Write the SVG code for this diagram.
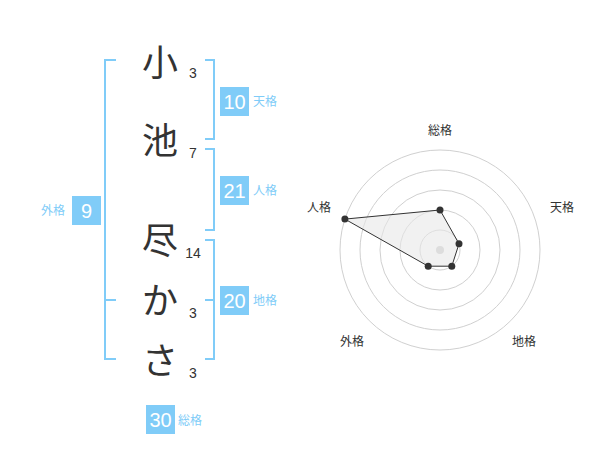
<svg xmlns="http://www.w3.org/2000/svg" width="600" height="470" viewBox="0 0 600 470">
<style>
.ch{font-family:"Noto Sans CJK JP","Noto Sans CJK SC",sans-serif;font-size:36px;fill:#333;text-anchor:middle}
.st{font-family:"Liberation Sans",Arial,sans-serif;font-size:14px;fill:#333;text-anchor:middle}
.br{fill:none;stroke:#80ccf8;stroke-width:2}
.bx{fill:#80ccf8}
.bn{font-family:"Liberation Sans",Arial,sans-serif;font-size:20px;fill:#fff;text-anchor:middle}
.lb{font-family:"Noto Sans CJK JP","Noto Sans CJK SC",sans-serif;font-size:12px;fill:#80ccf8}
.ring{fill:none;stroke:#d0d0d0;stroke-width:1}
.rl{font-family:"Noto Sans CJK JP","Noto Sans CJK SC",sans-serif;font-size:12px;fill:#333;text-anchor:middle}
.dot{fill:#333}
</style>
<g id="chars">
<text class="ch" x="160" y="76">小</text>
<text class="ch" x="160" y="154">池</text>
<text class="ch" x="160" y="254">尽</text>
<text class="ch" x="160" y="314">か</text>
<text class="ch" x="160" y="374">さ</text>
<text class="st" x="193" y="78">3</text>
<text class="st" x="193" y="158">7</text>
<text class="st" x="193" y="258">14</text>
<text class="st" x="193" y="318">3</text>
<text class="st" x="193" y="378">3</text>
</g>
<g id="connectors">
<path class="br" d="M116,60 H105 V359 H116 M105,300 H116"/>
<path class="br" d="M205,60 H214 V139 H205"/>
<path class="br" d="M205,149 H214 V230 H205"/>
<path class="br" d="M205,240 H214 V359 H205 M214,300 H205"/>
</g>
<g id="gaikaku">
<rect class="bx" x="72" y="196" width="29" height="29"/>
<text class="bn" x="86.5" y="218">9</text>
<text class="lb" x="65" y="215" text-anchor="end">外格</text>
</g>
<g id="tenkaku">
<rect class="bx" x="220" y="87" width="29" height="29"/>
<text class="bn" x="234.5" y="109">10</text>
<text class="lb" x="253" y="106">天格</text>
</g>
<g id="jinkaku">
<rect class="bx" x="220" y="176" width="29" height="29"/>
<text class="bn" x="234.5" y="198">21</text>
<text class="lb" x="253" y="195">人格</text>
</g>
<g id="chikaku">
<rect class="bx" x="220" y="286" width="29" height="29"/>
<text class="bn" x="234.5" y="308">20</text>
<text class="lb" x="253" y="305">地格</text>
</g>
<g id="soukaku">
<rect class="bx" x="146" y="405" width="29" height="29"/>
<text class="bn" x="160.5" y="427">30</text>
<text class="lb" x="178" y="425">総格</text>
</g>
<g id="radar">
<circle class="ring" cx="440" cy="250" r="20"/>
<circle class="ring" cx="440" cy="250" r="40"/>
<circle class="ring" cx="440" cy="250" r="60"/>
<circle class="ring" cx="440" cy="250" r="80"/>
<circle class="ring" cx="440" cy="250" r="100"/>
<circle cx="440" cy="250" r="4" fill="#ccc"/>
<polygon points="440,210 459,243.8 451.8,266.2 428.2,266.2 344.9,219.1" fill="#e8e8e8" fill-opacity="0.6" stroke="#333" stroke-width="1"/>
<circle class="dot" cx="440" cy="210" r="3.5"/>
<circle class="dot" cx="459" cy="243.8" r="3.5"/>
<circle class="dot" cx="451.8" cy="266.2" r="3.5"/>
<circle class="dot" cx="428.2" cy="266.2" r="3.5"/>
<circle class="dot" cx="344.9" cy="219.1" r="3.5"/>
<text class="rl" x="440" y="135">総格</text>
<text class="rl" x="562" y="212">天格</text>
<text class="rl" x="524" y="346">地格</text>
<text class="rl" x="352" y="346">外格</text>
<text class="rl" x="319" y="212">人格</text>
</g>
</svg>
